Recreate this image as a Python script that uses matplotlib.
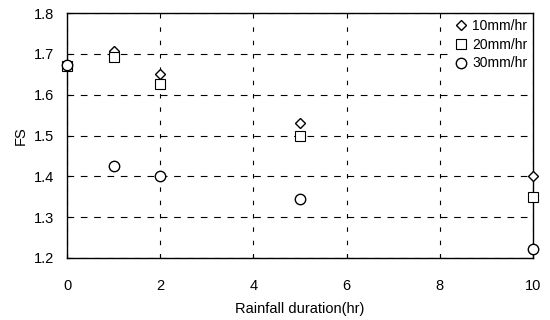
import matplotlib
matplotlib.use("Agg")
import matplotlib.pyplot as plt

plt.rcParams['font.family'] = ['Liberation Sans', 'DejaVu Sans']

duration = [0, 1, 2, 5, 10]
fs_10 = [1.67, 1.708, 1.652, 1.53, 1.40]
fs_20 = [1.67, 1.692, 1.627, 1.50, 1.35]
fs_30 = [1.672, 1.425, 1.40, 1.345, 1.222]
labels = ['10mm/hr', '20mm/hr', '30mm/hr']

fig = plt.figure(figsize=(5.5, 3.2), dpi=100)
ax = fig.add_axes([0.122, 0.194, 0.847, 0.765])

ax.plot(duration, fs_10, linestyle='none', marker='D', markersize=5.5,
        mfc='white', mec='black', mew=1.0, label=labels[0], clip_on=False, zorder=3)
ax.plot(duration, fs_20, linestyle='none', marker='s', markersize=6.5,
        mfc='white', mec='black', mew=0.8, label=labels[1], clip_on=False, zorder=3)
ax.plot(duration, fs_30, linestyle='none', marker='o', markersize=7.5,
        mfc='white', mec='black', mew=1.0, label=labels[2], clip_on=False, zorder=4)

ax.set_xlim(0, 10)
ax.set_ylim(1.2, 1.8)
ax.set_xticks([0, 2, 4, 6, 8, 10])
ax.set_yticks([1.2, 1.3, 1.4, 1.5, 1.6, 1.7, 1.8])
ax.set_yticklabels(['1.2', '1.3', '1.4', '1.5', '1.6', '1.7', '1.8'])
ax.yaxis.grid(True, color='black', linestyle=(0, (6, 6)), linewidth=0.8)
ax.xaxis.grid(True, color='black', linestyle=(0, (4, 8)), linewidth=0.8)
ax.tick_params(axis='both', direction='in', length=3, labelsize=10.5)
ax.tick_params(axis='x', pad=15)
ax.tick_params(axis='y', pad=9)
for s in ax.spines.values():
    s.set_linewidth(1.0)

ax.set_xlabel('Rainfall duration(hr)', fontsize=10.5, labelpad=7)
ax.set_ylabel('FS', fontsize=10.5, labelpad=5)

leg = ax.legend(loc='upper right', frameon=True, fontsize=10, handletextpad=0.3,
                handlelength=1.0, borderaxespad=0.1, labelspacing=0.35,
                fancybox=False, borderpad=0.3)
leg.get_frame().set_facecolor('white')
leg.get_frame().set_edgecolor('none')
leg.get_frame().set_alpha(1.0)

fig.savefig('out.png', dpi=100)
